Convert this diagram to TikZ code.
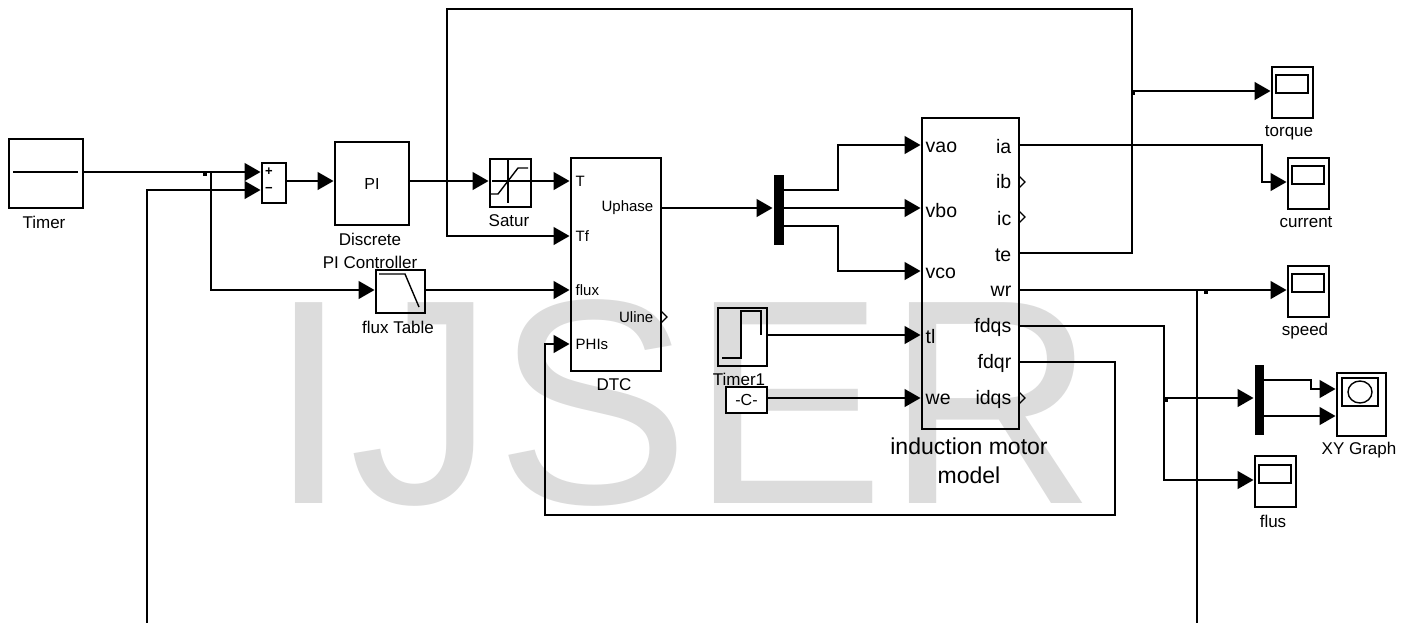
\documentclass[tikz,border=0pt]{standalone}
\usepackage{fontspec}
\setmainfont{Liberation Sans}
\usetikzlibrary{arrows.meta}
\definecolor{markgray}{HTML}{DCDCDC}
\begin{document}
\begin{tikzpicture}[
      x=1pt, y=-1pt,
      line width=1.4pt,
      block/.style={draw, inner sep=0pt, outer sep=0pt, align=center},
      scopebox/.style={block, minimum width=41pt, minimum height=51pt},
      screen/.style={block, minimum width=32pt, minimum height=18pt},
      muxbar/.style={fill=black, inner sep=0pt, outer sep=0pt, minimum width=10pt, minimum height=70pt},
      junction/.style={fill=black, inner sep=0pt, outer sep=0pt, minimum size=4pt},
      lbl/.style={inner sep=0pt, align=center, font=\fontsize{17pt}{23pt}\selectfont},
      portl/.style={inner sep=0pt, anchor=west, font=\fontsize{15pt}{17pt}\selectfont},
      portr/.style={inner sep=0pt, anchor=east, font=\fontsize{15pt}{17pt}\selectfont},
      bigl/.style={inner sep=0pt, anchor=west, font=\fontsize{19.5pt}{22pt}\selectfont},
      bigr/.style={inner sep=0pt, anchor=east, font=\fontsize{19.5pt}{22pt}\selectfont},
      arrow/.style={-{Triangle[length=16pt,width=18pt]}, shorten >=1.5pt},
      openport/.style={line width=1.2pt}
  ]
      \useasboundingbox (0,0) rectangle (1410,622);
      \clip (0,0) rectangle (1410,622);
      % Watermark behind everything
      \node[anchor=base west, inner sep=0pt, text=markgray, font=\fontsize{292pt}{292pt}\selectfont] (mark) at (268,503) {IJSER};

      % Source, sum, controller
      \node[block, minimum width=74pt, minimum height=69pt] (timer) at (46,173.5) {};
      \node[lbl] (timer_lbl) at (44,222) {Timer};
      \draw (13,172) -- (78,172);
      \node[block, minimum width=24pt, minimum height=40pt] (sum) at (274,183) {};
      \node[inner sep=0pt, font=\bfseries\fontsize{13pt}{13pt}\selectfont] (plus) at (269,172) {+};
      \node[inner sep=0pt, font=\bfseries\fontsize{13pt}{13pt}\selectfont] (minus) at (269,190) {−};
      \node[block, minimum width=74pt, minimum height=83pt, font=\fontsize{16pt}{17pt}\selectfont] (pi) at (372,183.5) {PI};
      \node[lbl] (pi_lbl) at (370,250.5) {Discrete\\PI Controller};

      % Saturation and flux table
      \node[block, minimum width=41pt, minimum height=48pt] (satur) at (510.5,183) {};
      \draw (508,159) -- (508,203) (492,181) -- (530,181);
      \draw (491,194) -- (498,194) -- (518,168) -- (528,168);
      \node[lbl] (satur_lbl) at (509,221) {Satur};
      \node[block, minimum width=49pt, minimum height=43pt] (fluxtab) at (400.5,291.5) {};
      \draw (379,274) -- (405,274) -- (419,307);
      \node[lbl] (fluxtab_lbl) at (398,327) {flux Table};

      % DTC block
      \node[block, minimum width=90pt, minimum height=213pt] (dtc) at (616,264.5) {};
      \node[lbl] (dtc_lbl) at (614,385) {DTC};
      \node[portl] (dtc_t) at (575,181) {T};
      \node[portl] (dtc_tf) at (575,236) {Tf};
      \node[portl] (dtc_flux) at (575,290) {flux};
      \node[portl] (dtc_phis) at (575,344) {PHIs};
      \node[portr] (dtc_up) at (654,208) {Uphase};
      \node[portr] (dtc_ul) at (654,317) {Uline};
      \coordinate (dtc_tin) at (571,181);
      \coordinate (dtc_tfin) at (571,236);
      \coordinate (dtc_fluxin) at (571,290);
      \coordinate (dtc_phin) at (571,344);
      \coordinate (dtc_out) at (661,208);

      % Mux, step, constant
      \node[muxbar] (mux_a) at (779,210) {};
      \node[block, minimum width=49pt, minimum height=58pt] (timer1) at (742.5,337) {};
      \draw (722,358) -- (741,358) -- (741,311) -- (761,311) -- (761,335);
      \node[lbl] (timer1_lbl) at (739,379) {Timer1};
      \node[block, minimum width=41pt, minimum height=26pt, fill=white, font=\fontsize{16pt}{17pt}\selectfont] (const) at (746.5,400) {-C-};

      % Motor block
      \node[block, minimum width=97pt, minimum height=311pt] (motor) at (970.5,273.5) {};
      \node[lbl, font=\fontsize{23pt}{29.5pt}\selectfont] (motor_lbl) at (969,461) {induction motor\\model};
      \node[bigl] (m_vao) at (925,147) {vao};
      \node[bigl] (m_vbo) at (925,211) {vbo};
      \node[bigl] (m_vco) at (925,273) {vco};
      \node[bigl] (m_tl) at (925,337) {tl};
      \node[bigl] (m_we) at (925,399) {we};
      \node[bigr] (m_ia) at (1012,147) {ia};
      \node[bigr] (m_ib) at (1012,182) {ib};
      \node[bigr] (m_ic) at (1012,219) {ic};
      \node[bigr] (m_te) at (1012,255) {te};
      \node[bigr] (m_wr) at (1012,291) {wr};
      \node[bigr] (m_fdqs) at (1012,327) {fdqs};
      \node[bigr] (m_fdqr) at (1012,363) {fdqr};
      \node[bigr] (m_idqs) at (1012,399) {idqs};

      % Scopes
      \node[scopebox] (torque) at (1292.5,92.5) {};
      \node[screen] (torque_scr) at (1292,84) {};
      \node[lbl] (torque_lbl) at (1289,133) {torque};
      \node[scopebox] (current) at (1308.5,183.5) {};
      \node[screen] (current_scr) at (1308,175) {};
      \node[lbl] (current_lbl) at (1306,222) {current};
      \node[scopebox] (speed) at (1308.5,291.5) {};
      \node[screen] (speed_scr) at (1308,283) {};
      \node[lbl] (speed_lbl) at (1305,331) {speed};
      \node[scopebox] (flus) at (1275.5,481.5) {};
      \node[screen] (flus_scr) at (1275,474) {};
      \node[lbl] (flus_lbl) at (1273,521) {flus};
      \node[muxbar, minimum width=9pt] (mux_b) at (1259.5,400) {};
      \node[block, line width=2.4pt, minimum width=49pt, minimum height=63pt] (xy) at (1361.5,404.5) {};
      \node[block, minimum width=36pt, minimum height=28pt] (xy_scr) at (1360,392) {};
      \draw (1360,392) ellipse (12pt and 11pt);
      \node[lbl] (xy_lbl) at (1359,450) {XY Graph};

      % Junction marks
      \node[junction] (dot_a) at (205,174) {};
      \node[junction] (dot_b) at (1133,93) {};
      \node[junction] (dot_c) at (1206,292) {};
      \node[junction] (dot_d) at (1166,400) {};

      % Free ends on the blocks
      \coordinate (sum_a) at (262,172);
      \coordinate (sum_b) at (262,190);
      \coordinate (timer_o) at (83,172);
      \coordinate (m_a) at (922,145);
      \coordinate (m_b) at (922,208);
      \coordinate (m_c) at (922,271);
      \coordinate (m_d) at (922,335);
      \coordinate (m_e) at (922,398);
      \coordinate (o_ia) at (1019,145);
      \coordinate (o_te) at (1019,253);
      \coordinate (o_wr) at (1019,290);
      \coordinate (o_fs) at (1019,326);
      \coordinate (o_fr) at (1019,362);

      % Signals, left part
      \draw[arrow] (timer_o) -- (sum_a);
      \draw[arrow] (211,172) |- (fluxtab.west |- dtc_fluxin);
      \draw[arrow] (sum.east |- dtc_tin) -- (pi.west |- dtc_tin);
      \draw[arrow] (pi.east |- dtc_tin) -- (satur.west |- dtc_tin);
      \draw[arrow] (satur.east |- dtc_tin) -- (dtc_tin);
      \draw[arrow] (fluxtab.east |- dtc_fluxin) -- (dtc_fluxin);
      \draw[arrow] (dtc_out) -- (mux_a.west |- dtc_out);

      % Signals to the motor
      \draw[arrow] (mux_a.east |- 0,190) -- (838,190) |- (m_a);
      \draw[arrow] (mux_a.east |- m_b) -- (m_b);
      \draw[arrow] (mux_a.east |- 0,226) -- (838,226) |- (m_c);
      \draw[arrow] (timer1.east |- m_d) -- (m_d);
      \draw[arrow] (const.east |- m_e) -- (m_e);

      % Signals from the motor
      \draw[arrow] (o_ia) -- (1262,145) |- (current.west |- 0,182);
      \draw[arrow] (o_te) -- (1132,253) -- (1132,9) -- (447,9) |- (dtc_tfin);
      \draw[arrow] (1132,91) -- (torque.west |- 0,91);
      \draw[arrow] (o_wr) -- (speed.west |- o_wr);
      \draw[arrow] (1197,290) -- (1197,640) -- (147,640) |- (sum_b);
      \draw[arrow] (o_fs) -- (1164,326) |- (flus.west |- 0,480);
      \draw[arrow] (1164,398) -- (mux_b.west |- 0,398);
      \draw[arrow] (mux_b.east |- 0,380) -- (1311,380) -- (1311,389) -- (xy.west |- 0,389);
      \draw[arrow] (mux_b.east |- 0,416) -- (xy.west |- 0,416);
      \draw[arrow] (o_fr) -- (1115,362) -- (1115,515) -- (545,515) |- (dtc_phin);

      % Open output ports
      \foreach \px/\py in {661/317, 1019/182, 1019/217, 1019/398}
        \draw[openport] (\px,\py-6) -- (\px+6,\py) -- (\px,\py+6);
\end{tikzpicture}
\end{document}
